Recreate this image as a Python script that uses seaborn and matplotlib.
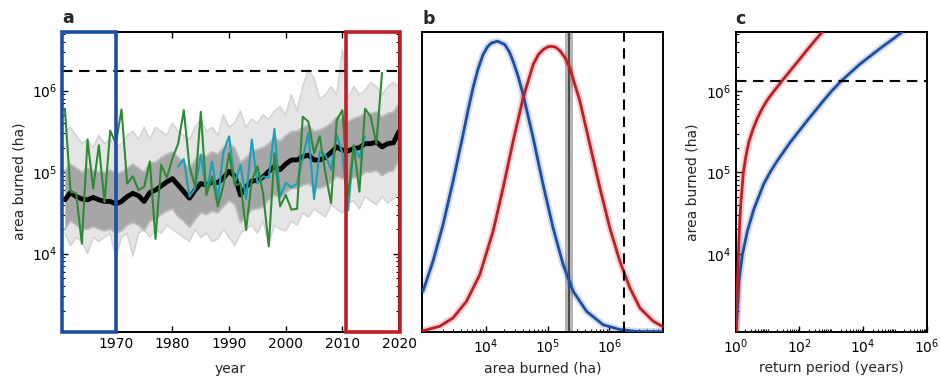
import numpy as np
import pandas as pd
import matplotlib
matplotlib.use("Agg")
import matplotlib.pyplot as plt
import matplotlib.transforms as mtransforms
from matplotlib.patches import Rectangle
from matplotlib.ticker import LogLocator, FixedLocator, NullLocator, NullFormatter
import seaborn as sns

# ---------------- data (log10 of area burned, ha) ----------------
years = list(range(1961, 2021))
mean_log = [4.66, 4.75, 4.70, 4.67, 4.66, 4.69, 4.66, 4.64, 4.64, 4.61,
            4.64, 4.70, 4.74, 4.71, 4.64, 4.75, 4.78, 4.83, 4.88, 4.92,
            4.84, 4.76, 4.68, 4.78, 4.86, 4.84, 4.88, 4.87, 4.93, 5.01,
            4.95, 4.72, 4.82, 4.89, 4.90, 4.94, 5.01, 5.07, 5.03, 5.10,
            5.15, 5.15, 5.19, 5.21, 5.15, 5.15, 5.18, 5.24, 5.31, 5.27,
            5.26, 5.29, 5.30, 5.35, 5.35, 5.37, 5.31, 5.35, 5.36, 5.50]
ens_outer_hi = [5.50, 5.55, 5.45, 5.35, 5.40, 5.30, 5.45, 5.35, 5.40, 5.30,
                5.35, 5.45, 5.50, 5.40, 5.55, 5.40, 5.55, 5.50, 5.45, 5.60,
                5.50, 5.45, 5.40, 5.55, 5.65, 5.50, 5.55, 5.45, 5.70, 5.55,
                5.60, 5.75, 5.55, 5.65, 5.60, 5.70, 5.65, 5.75, 5.80, 5.70,
                5.95, 5.75, 6.05, 6.25, 6.15, 5.90, 5.95, 6.05, 5.95, 6.50,
                5.90, 6.05, 5.95, 6.00, 6.10, 6.05, 5.95, 6.05, 6.10, 6.05]
ens_outer_lo = [4.25, 4.10, 4.20, 4.15, 4.00, 4.20, 4.15, 4.20, 4.25, 3.95,
                4.20, 4.25, 3.97, 4.25, 4.30, 4.20, 4.30, 4.25, 4.35, 4.30,
                4.25, 4.20, 4.15, 4.30, 4.20, 4.25, 4.15, 4.18, 4.30, 4.20,
                4.10, 4.25, 4.30, 4.35, 4.25, 4.40, 4.12, 4.35, 4.30, 4.28,
                4.40, 4.35, 4.50, 4.45, 4.55, 4.50, 4.45, 4.60, 4.55, 4.50,
                4.62, 4.65, 4.55, 4.70, 4.65, 4.60, 4.70, 4.62, 4.68, 4.75]
ens_inner_hi = [5.02, 5.10, 5.05, 5.00, 5.05, 5.02, 5.00, 5.00, 5.03, 4.98,
                5.00, 5.05, 5.10, 5.05, 5.00, 5.12, 5.12, 5.18, 5.22, 5.25,
                5.18, 5.12, 5.05, 5.15, 5.22, 5.20, 5.25, 5.22, 5.30, 5.35,
                5.30, 5.12, 5.18, 5.25, 5.28, 5.30, 5.35, 5.42, 5.38, 5.45,
                5.50, 5.50, 5.55, 5.58, 5.50, 5.52, 5.55, 5.60, 5.68, 5.65,
                5.62, 5.66, 5.68, 5.72, 5.72, 5.74, 5.68, 5.72, 5.74, 5.85]
ens_inner_lo = [4.30, 4.40, 4.35, 4.30, 4.30, 4.33, 4.30, 4.28, 4.30, 4.25,
                4.28, 4.35, 4.38, 4.35, 4.28, 4.40, 4.42, 4.48, 4.52, 4.55,
                4.45, 4.40, 4.32, 4.42, 4.50, 4.48, 4.52, 4.50, 4.58, 4.65,
                4.60, 4.38, 4.46, 4.54, 4.55, 4.58, 4.66, 4.72, 4.68, 4.75,
                4.80, 4.80, 4.84, 4.86, 4.80, 4.80, 4.83, 4.88, 4.95, 4.92,
                4.90, 4.93, 4.94, 5.00, 5.00, 5.02, 4.96, 5.00, 5.02, 5.15]
obs_years = list(range(1961, 2018))
obs_log = [5.78, 4.76, 4.74, 4.12, 5.40, 4.80, 5.33, 4.63, 5.51, 5.35,
           5.77, 4.86, 4.95, 4.78, 4.82, 5.13, 4.18, 5.09, 4.93, 5.17,
           5.35, 5.76, 5.07, 4.82, 5.74, 4.72, 4.95, 4.58, 4.84, 5.23,
           4.84, 4.86, 4.29, 4.90, 5.07, 4.74, 4.09, 5.23, 4.58, 4.72,
           4.54, 4.55, 5.68, 5.62, 5.23, 5.44, 4.99, 4.62, 5.64, 5.76,
           4.70, 5.33, 4.76, 5.78, 5.68, 5.35, 6.22]
alt_years = list(range(1981, 2015))
alt_log = [5.07, 5.16, 4.70, 4.80, 5.21, 4.74, 5.13, 4.66, 5.25, 5.44,
           4.86, 5.09, 4.67, 5.40, 4.86, 4.95, 4.93, 5.53, 4.70, 4.87,
           4.81, 4.86, 5.17, 5.48, 4.67, 5.25, 5.21, 5.03, 5.46, 5.23,
           4.53, 5.31, 5.18, 5.44]
threshold_ab = 1.72e6
threshold_c = 1.34e6
early_period = (1960.5, 1970.1)
late_period = (2010.6, 2020.2)

# panel b: density curves (x = log10 area, y = relative density)
pdf_early_x = [2.985, 3.147, 3.309, 3.471, 3.633, 3.714, 3.794, 3.876, 3.956, 4.03,
               4.092, 4.19, 4.307, 4.38, 4.442, 4.52, 4.604, 4.766, 4.927, 5.089,
               5.251, 5.413, 5.629, 5.898, 6.168, 6.438, 6.86]
pdf_early_y = [0.135, 0.235, 0.357, 0.502, 0.658, 0.740, 0.814, 0.878, 0.925, 0.952,
               0.964, 0.970, 0.959, 0.935, 0.903, 0.855, 0.792, 0.647, 0.491, 0.346,
               0.224, 0.135, 0.068, 0.023, 0.007, 0.001, 0.0]
pdf_late_x = [2.985, 3.256, 3.471, 3.687, 3.903, 4.118, 4.28, 4.442, 4.604, 4.766,
              4.85, 4.927, 5.0, 5.063, 5.13, 5.197, 5.28, 5.359, 5.521, 5.683,
              5.845, 6.006, 6.168, 6.33, 6.492, 6.707, 6.86]
pdf_late_y = [0.003, 0.018, 0.046, 0.101, 0.190, 0.335, 0.480, 0.636, 0.781, 0.892,
              0.925, 0.942, 0.951, 0.953, 0.950, 0.939, 0.915, 0.881, 0.770, 0.625,
              0.480, 0.346, 0.235, 0.146, 0.079, 0.035, 0.017]
obs_band = (10**5.28, 10**5.41)
obs_value = 10**5.345

# panel c: return period curves (log10 years, log10 area)
rp_early_t = [0.0, 0.031, 0.103, 0.209, 0.364, 0.57, 0.88, 1.09, 1.30, 1.71,
              2.23, 2.75, 3.01, 3.32, 3.894, 4.517, 5.14, 5.3]
rp_early_a = [2.9, 3.176, 3.665, 3.99, 4.276, 4.55, 4.86, 5.01, 5.14, 5.37,
              5.63, 5.88, 6.0, 6.127, 6.33, 6.52, 6.70, 6.75]
rp_late_t = [0.0, 0.03, 0.06, 0.09, 0.12, 0.16, 0.24, 0.32, 0.414, 0.55,
             0.676, 0.83, 0.986, 1.2, 1.455, 1.7, 1.92, 2.3, 2.7, 2.85]
rp_late_a = [2.95, 3.3, 3.7, 4.05, 4.35, 4.62, 5.0, 5.2, 5.38, 5.54,
             5.663, 5.785, 5.888, 6.0, 6.127, 6.245, 6.35, 6.535, 6.72, 6.79]

# ---------------- styling ----------------
BLUE = "#1c4fa3"
RED = "#bf1e24"
GREEN = "#2e8a34"
CYAN = "#1aa0b8"

sns.set_style("ticks")
plt.rcParams.update({
    "font.family": ["DejaVu Sans"],
    "font.size": 10,
    "axes.labelsize": 10,
    "xtick.labelsize": 10,
    "ytick.labelsize": 10,
    "axes.linewidth": 1.4,
    "axes.edgecolor": "black",
    "axes.labelpad": 4,
    "xtick.direction": "in",
    "ytick.direction": "in",
    "xtick.major.pad": 4,
    "xtick.major.size": 4.5,
    "ytick.major.size": 4.5,
    "xtick.minor.size": 2.5,
    "ytick.minor.size": 2.5,
    "xtick.major.width": 1.0,
    "ytick.major.width": 1.0,
    "xtick.minor.width": 0.8,
    "ytick.minor.width": 0.8,
    "xtick.color": "black",
    "ytick.color": "black",
})

fig = plt.figure(figsize=(9.4, 3.78), dpi=100)
axa = fig.add_axes([0.066, 0.1225, 0.3585, 0.7937])
axb = fig.add_axes([0.4493, 0.1225, 0.2557, 0.7922])
axc = fig.add_axes([0.7827, 0.1225, 0.2032, 0.7922])

YLIM = (1.1e3, 5.3e6)

# ---------------- panel a ----------------
yrs = np.array(years)
axa.fill_between(yrs, np.power(10, ens_outer_lo), np.power(10, ens_outer_hi),
                 color="#e5e5e5", lw=0, zorder=1)
axa.fill_between(yrs, np.power(10, ens_inner_lo), np.power(10, ens_inner_hi),
                 color="#a6a6a6", lw=0, zorder=2)
for arr, c in [(ens_outer_hi, "#d4d4d4"), (ens_outer_lo, "#d4d4d4"),
               (ens_inner_hi, "#bcbcbc"), (ens_inner_lo, "#bcbcbc")]:
    axa.plot(yrs, np.power(10, arr), color=c, lw=1.2, zorder=2)

df_mean = pd.DataFrame({"year": years, "area": np.power(10, mean_log)})
df_obs = pd.DataFrame({"year": obs_years, "area": np.power(10, obs_log)})
df_alt = pd.DataFrame({"year": alt_years, "area": np.power(10, alt_log)})
sns.lineplot(data=df_mean, x="year", y="area", ax=axa, color="black", lw=3.5,
             estimator=None, zorder=4)
sns.lineplot(data=df_alt, x="year", y="area", ax=axa, color=CYAN, lw=1.5,
             estimator=None, zorder=5)
sns.lineplot(data=df_obs, x="year", y="area", ax=axa, color=GREEN, lw=1.5,
             estimator=None, zorder=6)
axa.axhline(threshold_ab, color="black", lw=1.5, dashes=(5, 3.2), zorder=7)

axa.set_yscale("log")
axa.set_xlim(1960.5, 2020)
axa.set_ylim(*YLIM)
axa.set_xticks([1970, 1980, 1990, 2000, 2010, 2020])
axa.yaxis.set_major_locator(LogLocator(base=10, numticks=12))
axa.yaxis.set_minor_locator(LogLocator(base=10, subs=np.arange(2, 10), numticks=12))
axa.yaxis.set_minor_formatter(NullFormatter())
axa.tick_params(which="both", top=True, right=True)
axa.set_xlabel("year", labelpad=8)
axa.set_ylabel("area burned (ha)")

trans = mtransforms.blended_transform_factory(axa.transData, axa.transAxes)
for (x0, x1), col in [(early_period, BLUE), (late_period, RED)]:
    axa.add_patch(Rectangle((x0, 0), x1 - x0, 1, transform=trans, fill=False,
                            ec=col, lw=2.6, clip_on=False, zorder=10))

# ---------------- panel b ----------------
for xs, ys, col in [(pdf_early_x, pdf_early_y, BLUE), (pdf_late_x, pdf_late_y, RED)]:
    dfb = pd.DataFrame({"area": np.power(10, xs), "dens": ys})
    sns.lineplot(data=dfb, x="area", y="dens", ax=axb, color=col, lw=5, alpha=0.2,
                 estimator=None, sort=False, zorder=2)
    sns.lineplot(data=dfb, x="area", y="dens", ax=axb, color=col, lw=2.0,
                 estimator=None, sort=False, zorder=3)
axb.axvspan(*obs_band, color="#b4b4b4", lw=0, zorder=1)
axb.axvline(obs_value, color="#404040", lw=1.3, zorder=1.5)
axb.axvline(threshold_ab, color="black", lw=1.5, dashes=(5, 3.2), zorder=4)
axb.set_xscale("log")
axb.set_xlim(10**2.975, 10**6.86)
axb.set_ylim(0, 1)
axb.yaxis.set_major_locator(NullLocator())
axb.yaxis.set_minor_locator(NullLocator())
axb.xaxis.set_major_locator(FixedLocator([1e4, 1e5, 1e6]))
axb.xaxis.set_minor_locator(LogLocator(base=10, subs=np.arange(2, 10), numticks=12))
axb.xaxis.set_minor_formatter(NullFormatter())
axb.set_xlabel("area burned (ha)")
axb.set_ylabel("")

# ---------------- panel c ----------------
for ts, as_, col in [(rp_early_t, rp_early_a, BLUE), (rp_late_t, rp_late_a, RED)]:
    dfc = pd.DataFrame({"rp": np.power(10, ts), "area": np.power(10, as_)})
    sns.lineplot(data=dfc, x="rp", y="area", ax=axc, color=col, lw=5, alpha=0.2,
                 estimator=None, sort=False, zorder=2)
    sns.lineplot(data=dfc, x="rp", y="area", ax=axc, color=col, lw=2.0,
                 estimator=None, sort=False, zorder=3)
axc.axhline(threshold_c, color="black", lw=1.5, dashes=(5, 3.2), zorder=4)
axc.set_xscale("log")
axc.set_yscale("log")
axc.set_xlim(1, 1e6)
axc.set_ylim(*YLIM)
axc.xaxis.set_major_locator(FixedLocator([1, 1e2, 1e4, 1e6]))
axc.xaxis.set_minor_locator(LogLocator(base=10, subs=np.arange(1, 10), numticks=20))
axc.xaxis.set_minor_formatter(NullFormatter())
axc.yaxis.set_major_locator(LogLocator(base=10, numticks=12))
axc.yaxis.set_minor_locator(LogLocator(base=10, subs=np.arange(2, 10), numticks=12))
axc.yaxis.set_minor_formatter(NullFormatter())
axc.set_xlabel("return period (years)")
axc.set_ylabel("area burned (ha)")

for ax, lab in [(axa, "a"), (axb, "b"), (axc, "c")]:
    ax.text(0.0, 1.015, lab, transform=ax.transAxes, fontsize=12.5,
            fontweight="bold", ha="left", va="bottom")
    for s in ax.spines.values():
        s.set_visible(True)
        s.set_linewidth(1.4)

fig.savefig("out.png", dpi=100)
